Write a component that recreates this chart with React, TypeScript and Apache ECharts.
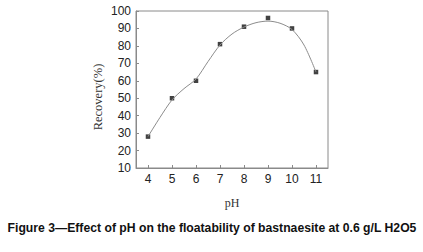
import React, { useEffect, useRef } from "react";
import * as echarts from "echarts";

const pH = [4, 5, 6, 7, 8, 9, 10, 11];
const recovery = [28, 50, 60, 81, 91, 96, 90, 65];
const fitPH = [4, 4.5, 5, 5.5, 6, 6.5, 7, 7.5, 8, 8.5, 9, 9.5, 10, 10.5, 11];
const fitRecovery = [28, 39, 49, 55.5, 61, 71, 80.5, 86.8, 90.8, 93.3, 94.2, 93, 89.4, 80.5, 65];
const xTicks = [4, 5, 6, 7, 8, 9, 10, 11];
const yTicks = [10, 20, 30, 40, 50, 60, 70, 80, 90, 100];
const caption = "Figure 3\u2014Effect of pH on the floatability of bastnaesite at 0.6 g/L H2O5";
const tickFont = "Liberation Sans";

export default function App() {
  const ref = useRef<HTMLDivElement>(null);
  useEffect(() => {
    const chart = echarts.init(ref.current!, null, { renderer: "svg" });
    chart.setOption({
      animation: false,
      backgroundColor: "#ffffff",
      grid: {
        left: 136,
        top: 11,
        width: 192,
        height: 157,
        show: true,
        borderColor: "#8a8a8a",
        borderWidth: 1,
        backgroundColor: "transparent",
      },
      xAxis: {
        type: "value",
        min: 3.5,
        max: 11.5,
        interval: 0.5,
        name: "pH",
        nameLocation: "middle",
        nameGap: 29,
        nameTextStyle: { fontFamily: "Liberation Serif", fontSize: 12, color: "#333" },
        axisLine: { lineStyle: { color: "#8a8a8a" } },
        axisTick: {
          inside: true,
          length: 3,
          lineStyle: { color: "#8a8a8a" },
          customValues: xTicks,
        },
        axisLabel: {
          customValues: xTicks,
          fontFamily: tickFont,
          fontSize: 12,
          color: "#222",
          margin: 5,
        },
        splitLine: { show: false },
      },
      yAxis: {
        type: "value",
        min: 10,
        max: 100,
        interval: 10,
        axisLine: { show: true, lineStyle: { color: "#8a8a8a" } },
        axisTick: { show: true, inside: true, length: 3, lineStyle: { color: "#8a8a8a" } },
        axisLabel: {
          fontFamily: tickFont,
          fontSize: 12,
          color: "#222",
          margin: 5,
          formatter: (v: number) => (yTicks.includes(v) ? String(v) : ""),
        },
        splitLine: { show: false },
      },
      graphic: [
        {
          type: "text",
          x: 98,
          y: 97,
          rotation: Math.PI / 2,
          style: {
            text: "Recovery(%)",
            fontFamily: "Liberation Serif",
            fontSize: 12.5,
            fill: "#333",
            align: "center",
            verticalAlign: "middle",
          },
        },
        {
          type: "text",
          x: 212,
          y: 228,
          style: {
            text: caption,
            fontFamily: "Liberation Sans",
            fontWeight: "bold",
            fontSize: 12.2,
            fill: "#111",
            align: "center",
            verticalAlign: "middle",
          },
        },
      ],
      series: [
        {
          type: "line",
          data: fitPH.map((x, i) => [x, fitRecovery[i]]),
          smooth: 0.3,
          showSymbol: false,
          lineStyle: { color: "#8c8c8c", width: 1 },
          silent: true,
        },
        {
          type: "scatter",
          data: pH.map((x, i) => [x, recovery[i]]),
          symbol: "rect",
          symbolSize: 4.5,
          itemStyle: { color: "#111" },
        },
      ],
    });
    return () => chart.dispose();
  }, []);
  return <div ref={ref} style={{ width: 423, height: 252, position: "absolute", left: 0, top: 0 }} />;
}
